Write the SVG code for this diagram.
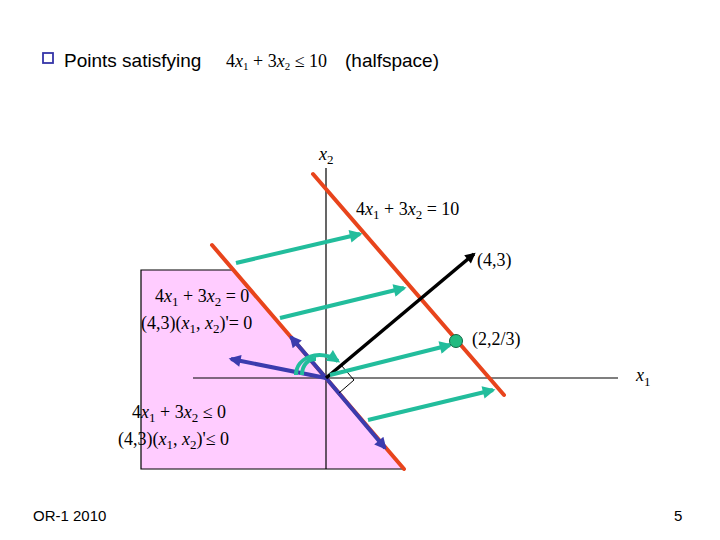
<svg xmlns="http://www.w3.org/2000/svg" width="720" height="540" viewBox="0 0 720 540">
<style>
.sans{font-family:"Liberation Sans",Arial,sans-serif;fill:#000}
.m{font-family:"Liberation Serif","Times New Roman",serif;font-size:18px;fill:#000}
.i{font-style:italic}
.ax{stroke:#000;stroke-width:1.2;fill:none}
.red{stroke:#E8441C;stroke-width:4;stroke-linecap:round;fill:none}
.blue{stroke:#3B3BAE;stroke-width:4;fill:none}
.teal{stroke:#22BD9C;stroke-width:4;fill:none}
.blk{stroke:#000;stroke-width:3.5;fill:none}
</style>
<defs>
<marker id="ah-teal" viewBox="0 0 10 10" refX="8" refY="5" markerWidth="3.6" markerHeight="3.2" orient="auto" markerUnits="strokeWidth"><path d="M0,0L10,5L0,10z" fill="#22BD9C"/></marker>
<marker id="ah-blue" viewBox="0 0 10 10" refX="8" refY="5" markerWidth="3.4" markerHeight="3" orient="auto" markerUnits="strokeWidth"><path d="M0,0L10,5L0,10z" fill="#3B3BAE"/></marker>
<marker id="ah-blk" viewBox="0 0 10 10" refX="8" refY="5" markerWidth="3.4" markerHeight="3" orient="auto" markerUnits="strokeWidth"><path d="M0,0L10,5L0,10z" fill="#000"/></marker>
</defs>
<rect width="720" height="540" fill="#fff"/>

<g id="halfspace-region">
<polygon points="141,270 233,270 404,469 141,469" fill="#FFCCFF"/>
<polyline points="233,270 141,270 141,469 404,469" class="ax"/>
</g>

<g id="axes">
<line x1="326" y1="168" x2="326" y2="469" class="ax"/>
<line x1="193" y1="378" x2="618" y2="378" class="ax"/>
</g>

<g id="connectors">
<line id="line10" x1="313" y1="174" x2="504" y2="395" class="red"/>
<line id="line0" x1="212" y1="245" x2="404" y2="469" class="red"/>
<line x1="326" y1="378" x2="291" y2="337" class="blue" marker-end="url(#ah-blue)"/>
<line x1="326" y1="378" x2="385" y2="448" class="blue" marker-end="url(#ah-blue)"/>
<line x1="326" y1="378" x2="231" y2="359" class="blue" marker-end="url(#ah-blue)"/>
<line x1="326" y1="378" x2="474" y2="254" class="blk" marker-end="url(#ah-blk)"/>
<polyline points="341,365 354,380 339,393" fill="none" stroke="#000" stroke-width="1"/>
<line x1="236" y1="263" x2="360" y2="234" class="teal" marker-end="url(#ah-teal)"/>
<line x1="280" y1="318" x2="404" y2="288" class="teal" marker-end="url(#ah-teal)"/>
<line x1="330" y1="375" x2="450" y2="345" class="teal" marker-end="url(#ah-teal)"/>
<line x1="368" y1="420" x2="493" y2="390" class="teal" marker-end="url(#ah-teal)"/>
<path d="M296,375 C296,358 318,348 338,361" class="teal" stroke-width="3.5" marker-end="url(#ah-teal)"/>
<path d="M302,375 C302,364 309,359 316,359" class="teal" stroke-width="3.5"/>
</g>

<g id="point">
<circle cx="456" cy="341" r="6.5" fill="#22BB80" stroke="#126644" stroke-width="1"/>
</g>

<g id="title">
<rect x="43" y="53" width="10" height="10" fill="none" stroke="#3535A8" stroke-width="1.8"/>
<text x="64" y="67" class="sans" font-size="19">Points satisfying</text>
<text x="226" y="67" class="m" font-size="16">4<tspan class="i">x</tspan><tspan font-size="11" dy="3">1</tspan><tspan dy="-3"> + 3</tspan><tspan class="i">x</tspan><tspan font-size="11" dy="3">2</tspan><tspan dy="-3"> ≤ 10</tspan></text>
<text x="345" y="67" class="sans" font-size="19">(halfspace)</text>
</g>

<g id="labels">
<text x="319" y="160" class="m"><tspan class="i">x</tspan><tspan font-size="13" dy="4">2</tspan></text>
<text x="636" y="381" class="m"><tspan class="i">x</tspan><tspan font-size="13" dy="5">1</tspan></text>
<text x="356" y="215" class="m">4<tspan class="i">x</tspan><tspan font-size="13" dy="4">1</tspan><tspan dy="-4"> + 3</tspan><tspan class="i">x</tspan><tspan font-size="13" dy="4">2</tspan><tspan dy="-4"> = 10</tspan></text>
<text x="477" y="266" class="m">(4,3)</text>
<text x="472" y="345" class="m">(2,2/3)</text>
<text x="155" y="302" class="m">4<tspan class="i">x</tspan><tspan font-size="13" dy="4">1</tspan><tspan dy="-4"> + 3</tspan><tspan class="i">x</tspan><tspan font-size="13" dy="4">2</tspan><tspan dy="-4"> = 0</tspan></text>
<text x="141" y="329" class="m">(4,3)(<tspan class="i">x</tspan><tspan font-size="13" dy="4">1</tspan><tspan dy="-4">, </tspan><tspan class="i">x</tspan><tspan font-size="13" dy="4">2</tspan><tspan dy="-4">)'= 0</tspan></text>
<text x="132" y="418" class="m">4<tspan class="i">x</tspan><tspan font-size="13" dy="4">1</tspan><tspan dy="-4"> + 3</tspan><tspan class="i">x</tspan><tspan font-size="13" dy="4">2</tspan><tspan dy="-4"> ≤ 0</tspan></text>
<text x="118" y="445" class="m">(4,3)(<tspan class="i">x</tspan><tspan font-size="13" dy="4">1</tspan><tspan dy="-4">, </tspan><tspan class="i">x</tspan><tspan font-size="13" dy="4">2</tspan><tspan dy="-4">)'≤ 0</tspan></text>
</g>

<g id="footer">
<text x="33" y="521" class="sans" font-size="15">OR-1 2010</text>
<text x="674" y="521" class="sans" font-size="15">5</text>
</g>
</svg>
